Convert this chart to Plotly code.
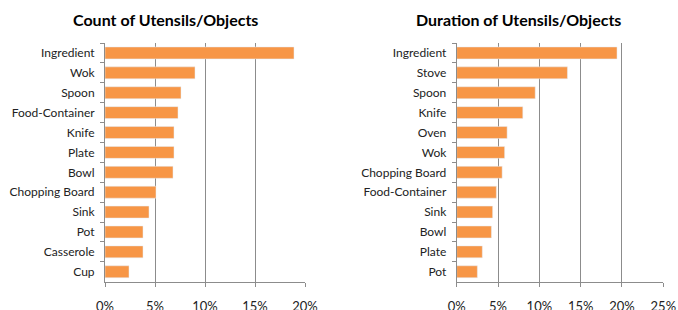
import plotly.graph_objects as go

count_labels = ["Ingredient", "Wok", "Spoon", "Food-Container", "Knife", "Plate", "Bowl",
                "Chopping Board", "Sink", "Pot", "Casserole", "Cup"]
count_values = [18.9, 9.0, 7.6, 7.3, 6.9, 6.9, 6.8, 5.1, 4.4, 3.8, 3.8, 2.4]

dur_labels = ["Ingredient", "Stove", "Spoon", "Knife", "Oven", "Wok", "Chopping Board",
              "Food-Container", "Sink", "Bowl", "Plate", "Pot"]
dur_values = [19.4, 13.4, 9.5, 8.0, 6.1, 5.8, 5.5, 4.8, 4.35, 4.2, 3.1, 2.5]

left_ticks = [0, 5, 10, 15, 20]
right_ticks = [0, 5, 10, 15, 20, 25]

BAR = "#F79646"
GRID = "#8C8C8C"
FONT = "Lato, sans-serif"

fig = go.Figure()
fig.add_trace(go.Bar(x=count_values, y=count_labels, orientation="h", marker_color=BAR,
                     xaxis="x", yaxis="y", showlegend=False))
fig.add_trace(go.Bar(x=dur_values, y=dur_labels, orientation="h", marker_color=BAR,
                     xaxis="x2", yaxis="y2", showlegend=False))

W, H = 678, 310
ydom = [(H - 281.7) / H, (H - 43) / H]

def xax(dom, ticks, anchor):
    return dict(domain=dom, range=[0, ticks[-1]], tickvals=ticks,
                ticktext=[f"{t}%" for t in ticks], showgrid=True, gridcolor=GRID,
                gridwidth=1, zeroline=False, showline=True, linecolor=GRID,
                ticks="outside", ticklen=4, tickcolor=GRID, anchor=anchor,
                tickfont=dict(family=FONT, size=13, color="#222"),
                ticklabelstandoff=9, automargin=False, fixedrange=True)

def yax(anchor):
    return dict(domain=ydom, autorange="reversed", anchor=anchor, showline=True,
                linecolor=GRID, ticks="outside", ticklen=4, tickcolor=GRID,
                tickson="boundaries", showgrid=False,
                tickfont=dict(family=FONT, size=12, color="#222"),
                ticklabelstandoff=7, automargin=False, fixedrange=True)

fig.update_layout(
    width=W, height=H,
    margin=dict(l=0, r=0, t=0, b=0),
    paper_bgcolor="white", plot_bgcolor="white",
    bargap=0.4,
    xaxis=xax([105 / W, 305 / W], left_ticks, "y"),
    yaxis=yax("x"),
    xaxis2=xax([456.7 / W, 663.3 / W], right_ticks, "y2"),
    yaxis2=yax("x2"),
    annotations=[
        dict(text="<b>Count of Utensils/Objects</b>", x=165 / W, y=1 - 20 / H,
             xref="paper", yref="paper", showarrow=False, xanchor="center", yanchor="middle",
             font=dict(family=FONT, size=16, color="#000")),
        dict(text="<b>Duration of Utensils/Objects</b>", x=518 / W, y=1 - 20 / H,
             xref="paper", yref="paper", showarrow=False, xanchor="center", yanchor="middle",
             font=dict(family=FONT, size=16, color="#000")),
    ],
)

fig.write_html("out.html", config={"displayModeBar": False},
               post_script="document.body.style.margin='0';document.body.style.overflow='hidden';")
